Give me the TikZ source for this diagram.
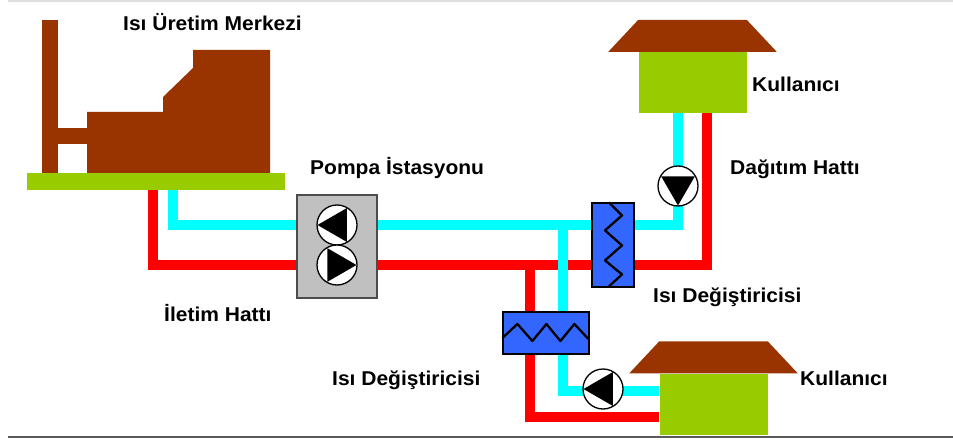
\documentclass[tikz,border=0pt]{standalone}
\usepackage{fontspec}
\usepackage{xcolor}
\usepackage{tikz}
\usetikzlibrary{positioning, calc}

\newfontfamily\lblfont{Liberation Sans}[FakeStretch=1.05]

\definecolor{bldg}{HTML}{993300}
\definecolor{lawn}{HTML}{99CC00}
\definecolor{coldpipe}{HTML}{00FFFF}
\definecolor{hotpipe}{HTML}{FF0000}
\definecolor{hxblue}{HTML}{3366FF}
\definecolor{stationgray}{HTML}{C0C0C0}

\begin{document}
\begin{tikzpicture}[
        x=1pt, y=-1pt,
        cold/.style={draw=coldpipe, line width=10.5pt, line join=miter},
        hot/.style={draw=hotpipe, line width=10.5pt, line join=miter},
        pump/.style={circle, draw=black, fill=white, line width=1.3pt, minimum size=40pt, inner sep=0pt,
            path picture={\fill[black, shift={(path picture bounding box.center)}] (#1:19.5pt) -- (#1+120:19.5pt) -- (#1+240:19.5pt) -- cycle;}},
        hx/.style={rectangle, draw=black, fill=hxblue, line width=1.2pt, inner sep=0pt},
        coil/.style={draw=black, line width=2.3pt, line join=round},
        home/.style={rectangle, fill=lawn, inner sep=0pt, minimum width=108pt, minimum height=61pt},
        lbl/.style={anchor=base west, inner sep=0pt, font={\lblfont\bfseries\fontsize{20}{24}\selectfont}}
    ]
        \useasboundingbox (0,0) rectangle (953,441);

        % Page rules
        \draw[gray!25, line width=1.5pt] (8,0.8) -- (953,0.8);
        \draw[gray!70!black, line width=2pt] (8,437) -- (953,437);

        % Heat plant
        \fill[bldg] (42,20) rectangle (58,176);
        \fill[bldg] (58,128) rectangle (87,144);
        \fill[bldg] (87,176) -- (87,112) -- (163,112) -- (163,97) -- (193,68) -- (193,50) -- (270,50) -- (270,176) -- cycle;

        % Users, pumps and exchangers
        \node[home] (userA) at (692.5,82.5) {};
        \node[home] (userB) at (713.5,404) {};
        \node[hx, minimum width=42pt, minimum height=84pt] (hxA) at (613,245) {};
        \node[hx, minimum width=86pt, minimum height=42pt] (hxB) at (546,333) {};

        \coordinate (coldout) at (173,185);
        \coordinate (hotout) at (153,185);
        \coordinate (teeCold) at (563,225);
        \coordinate (teeHot) at (530,265);

        % Transmission line
        \draw[hot] (hotout) |- ([yshift=-20pt]hxA.east) -| ([xshift=14.5pt]userA.south);
        \draw[cold] (coldout) |- ([yshift=20pt]hxA.east) -| ([xshift=-14.5pt]userA.south);

        % Branch to the lower user
        \draw[hot] (teeHot) |- ([yshift=-13pt]userB.west);
        \draw[cold] (teeCold) |- ([yshift=13pt]userB.west);

        % Ground under the plant
        \node[fill=lawn, inner sep=0pt, minimum width=258pt, minimum height=17pt] (base) at (156,181.5) {};

        % Pump station
        \node[fill=stationgray, draw=black!70, line width=1.3pt, minimum width=80pt, minimum height=103pt] (station) at (337,246.5) {};
        \node[pump=180] (pumpA) at (337,225) {};
        \node[pump=0] (pumpB) at (337,265) {};

        % Circulation pumps of the users
        \node[pump=270] (pumpC) at (678,186) {};
        \node[pump=180] (pumpD) at (603,389) {};

        % Redraw exchangers over the pipes
        \node[hx, minimum width=42pt, minimum height=84pt] at (hxA) {};
        \node[hx, minimum width=86pt, minimum height=42pt] at (hxB) {};
        \draw[coil] ([xshift=-4pt]hxA.north) -- ++(13,13) -- ++(-17,15) -- ++(17,15) -- ++(-17,15) -- ++(17,14) -- ++(-13,12);
        \draw[coil] ([yshift=-5pt]hxB.west) -- ++(15,-14) -- ++(15,17) -- ++(14,-17) -- ++(14,17) -- ++(14,-17) -- ++(14,15);

        % Roofs and bodies of the users
        \foreach \u in {userA, userB} {
            \node[home] at (\u) {};
            \fill[bldg] ([xshift=-30pt]\u.north west) -- ([xshift=30pt]\u.north east)
                -- ([yshift=32pt]\u.north east) -- ([yshift=32pt]\u.north west) -- cycle;
        }

        % Labels
        \node[lbl] (lblPlant) at (123,31) {Isı Üretim Merkezi};
        \node[lbl] (lblUserA) at (752,92) {Kullanıcı};
        \node[lbl] (lblDist) at (730,175) {Dağıtım Hattı};
        \node[lbl] (lblStation) at (310,175) {Pompa İstasyonu};
        \node[lbl] (lblHxA) at (653,302) {Isı Değiştiricisi};
        \node[lbl] (lblTrans) at (164,321) {İletim Hattı};
        \node[lbl] (lblHxB) at (332,385) {Isı Değiştiricisi};
        \node[lbl] (lblUserB) at (800,385) {Kullanıcı};
    \end{tikzpicture}
\end{document}
